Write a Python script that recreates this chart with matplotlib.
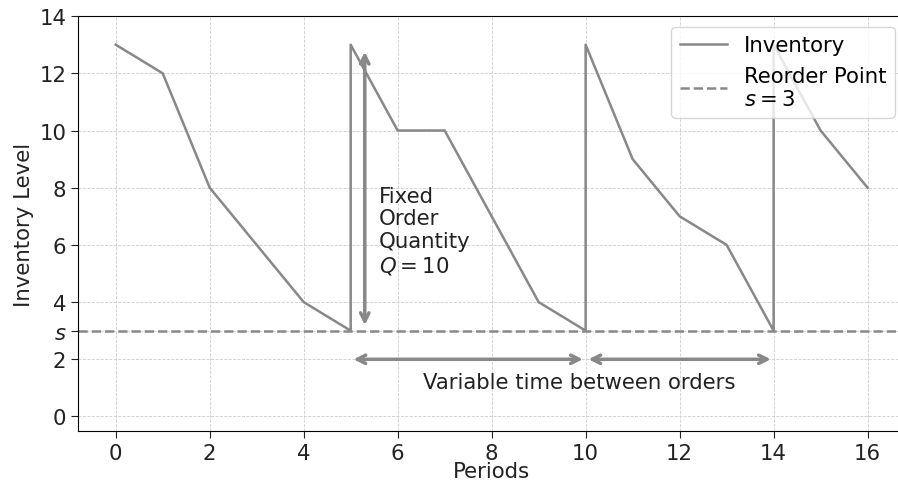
import matplotlib
matplotlib.use("Agg")
import matplotlib.pyplot as plt

periods = [0, 1, 2, 3, 4, 5, 5, 6, 7, 8, 9, 10, 10, 11, 12, 13, 14, 14, 15, 16]
inventory = [13, 12, 8, 6, 4, 3, 13, 10, 10, 7, 4, 3, 13, 9, 7, 6, 3, 13, 10, 8]
reorder_point = 3
order_qty = 10
order_times = [5, 10, 14]

yticks = [0, 2, reorder_point, 4, 6, 8, 10, 12, 14]
ytick_labels = ["0", "2", "$s$", "4", "6", "8", "10", "12", "14"]
xticks = [0, 2, 4, 6, 8, 10, 12, 14, 16]

GRAY = "#888888"
FS = 15.3

plt.rcParams["font.family"] = "DejaVu Sans"
fig, ax = plt.subplots(figsize=(8.98, 4.89), dpi=100)

ax.plot(periods, inventory, color=GRAY, lw=1.8, label="Inventory")
ax.axhline(reorder_point, color=GRAY, ls="--", lw=1.8, label="Reorder Point\n$s=3$")

# order quantity arrow
ax.annotate("", xy=(5.3, reorder_point + order_qty - 0.15), xytext=(5.3, reorder_point + 0.1),
            arrowprops=dict(arrowstyle="<->", color=GRAY, lw=2.5, mutation_scale=15))
ax.text(5.6, 8.07, "Fixed\nOrder\nQuantity\n$Q=10$", fontsize=FS, va="top", ha="left",
        color="#222222", linespacing=1.17)

# time between orders arrows
for a, b in zip(order_times[:-1], order_times[1:]):
    ax.annotate("", xy=(b, 2), xytext=(a, 2),
                arrowprops=dict(arrowstyle="<->", color=GRAY, lw=2.5, mutation_scale=15,
                                shrinkA=2, shrinkB=2))
ax.text(9.87, 1.2, "Variable time between orders", fontsize=FS, ha="center", va="center",
        color="#222222")

ax.set_xlim(-0.8, 16.8)
ax.set_ylim(-0.5, 14)
ax.set_xticks(xticks)
ax.set_yticks(yticks, labels=ytick_labels)
ax.tick_params(labelsize=FS, colors="#222222", length=5)
ax.set_xlabel("Periods", fontsize=FS, color="#222222", labelpad=-1)
ax.set_ylabel("Inventory Level", fontsize=FS, color="#222222")

ax.grid(True, color="#cccccc", ls="--", lw=0.6)
ax.spines["right"].set_visible(False)

leg = ax.legend(loc="upper right", fontsize=FS, handlelength=2.2, labelspacing=0.5)
leg.get_frame().set_edgecolor("#cccccc")

fig.subplots_adjust(left=0.087, right=1.008, bottom=0.117, top=0.965)
fig.savefig("out.png", dpi=100)
